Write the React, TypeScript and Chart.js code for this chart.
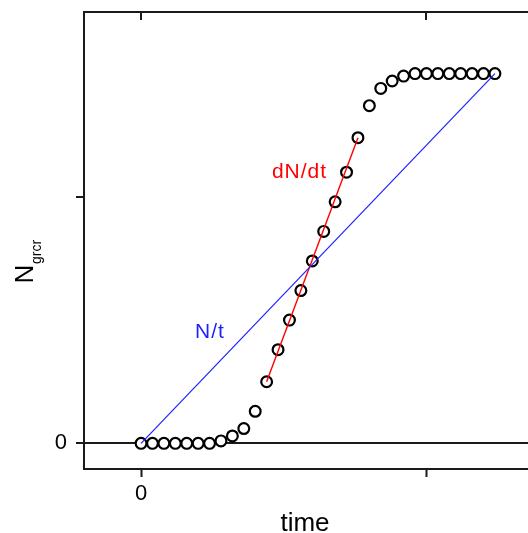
import React, { useEffect, useRef } from "react";
import { Chart, registerables } from "chart.js";

Chart.register(...registerables);

// ---- data ----
const time = [0, 1, 2, 3, 4, 5, 6, 7, 8, 9, 10, 11, 12, 13, 14, 15, 16, 17, 18, 19, 20, 21, 22, 23, 24, 25, 26, 27, 28, 29, 30, 31];
const ngrcr = [0, 0, 0, 0, 0, 0, 0, 0.01, 0.03, 0.06, 0.13, 0.25, 0.38, 0.5, 0.62, 0.74, 0.86, 0.98, 1.1, 1.24, 1.37, 1.44, 1.47, 1.49, 1.5, 1.5, 1.5, 1.5, 1.5, 1.5, 1.5, 1.5];
const ntLineX = [0, 31];
const ntLineY = [0, 1.5];
const dndtLineX = [11, 19];
const dndtLineY = [0.25, 1.24];
const xTickValues = [0, 25];
const xTickLabels = ["0", ""];
const yTickValues = [0, 1];
const yTickLabels = ["0", ""];
const xTitle = "time";
const yTitleMain = "N";
const yTitleSub = "grcr";
const ntLabel = "N/t";
const dndtLabel = "dN/dt";

const FONT = '"Liberation Sans", Arial, Helvetica, sans-serif';
const AXIS = "#1a1a1a";
const BLUE = "#1f1fff";
const RED = "#ff0000";

const overlay = {
  id: "overlay",
  afterDraw(chart: any) {
    const { ctx, chartArea, scales } = chart;
    const x = scales.x;
    const y = scales.y;
    ctx.save();
    // inside ticks on the top frame
    ctx.strokeStyle = AXIS;
    ctx.lineWidth = 2;
    xTickValues.forEach((v) => {
      const px = Math.round(x.getPixelForValue(v));
      ctx.beginPath();
      ctx.moveTo(px, chartArea.top);
      ctx.lineTo(px, chartArea.top + 8);
      ctx.stroke();
    });
    // annotations
    ctx.textAlign = "center";
    ctx.textBaseline = "alphabetic";
    ctx.font = `21px ${FONT}`;
    (ctx as any).letterSpacing = "1px";
    ctx.fillStyle = RED;
    ctx.fillText(dndtLabel, x.getPixelForValue(13.88), y.getPixelForValue(1.076));
    ctx.fillStyle = BLUE;
    ctx.fillText(ntLabel, x.getPixelForValue(6.04), y.getPixelForValue(0.427));
    (ctx as any).letterSpacing = "0px";
    // x title
    ctx.fillStyle = "#000";
    ctx.font = `26px ${FONT}`;
    ctx.fillText(xTitle, 305, 531);
    // y title (rotated, with subscript)
    ctx.rotate(-Math.PI / 2);
    ctx.textAlign = "left";
    ctx.font = `26px ${FONT}`;
    ctx.fillText(yTitleMain, -283.5, 33);
    ctx.font = `14px ${FONT}`;
    ctx.fillText(yTitleSub, -264, 41);
    ctx.restore();
  },
};

export default function App() {
  const ref = useRef<HTMLCanvasElement>(null);

  useEffect(() => {
    if (!ref.current) return;
    const chart = new Chart(ref.current, {
      type: "scatter",
      data: {
        datasets: [
          {
            label: ntLabel,
            data: ntLineX.map((v, i) => ({ x: v, y: ntLineY[i] })),
            showLine: true,
            borderColor: BLUE,
            borderWidth: 1.2,
            pointRadius: 0,
            fill: false,
          },
          {
            label: dndtLabel,
            data: dndtLineX.map((v, i) => ({ x: v, y: dndtLineY[i] })),
            showLine: true,
            borderColor: RED,
            borderWidth: 1.4,
            pointRadius: 0,
            fill: false,
          },
          {
            label: "Ngrcr",
            data: time.map((t, i) => ({ x: t, y: ngrcr[i] })),
            pointStyle: "circle",
            pointRadius: 5.4,
            pointBorderWidth: 2.2,
            pointBorderColor: "#000",
            pointBackgroundColor: "#fff",
            showLine: false,
          },
        ],
      },
      options: {
        animation: false,
        responsive: false,
        maintainAspectRatio: false,
        devicePixelRatio: 1,
        layout: { padding: { left: 0, top: 12, right: 8, bottom: 0 } },
        plugins: { legend: { display: false }, tooltip: { enabled: false } },
        scales: {
          x: {
            type: "linear",
            position: "bottom",
            min: -5,
            max: 36,
            afterBuildTicks: (scale: any) => {
              scale.ticks = xTickValues.map((v) => ({ value: v }));
            },
            afterFit: (scale: any) => {
              scale.height = 64;
              scale.paddingLeft = 0;
              scale.paddingRight = 0;
            },
            ticks: {
              callback: (_v: any, i: number) => xTickLabels[i],
              font: { family: FONT, size: 22 },
              color: "#000",
              padding: 4,
              maxRotation: 0,
            },
            grid: {
              drawOnChartArea: false,
              drawTicks: true,
              tickLength: 8,
              tickColor: AXIS,
              tickWidth: 2,
            },
            border: { display: true, color: AXIS, width: 2 },
          },
          x2: {
            type: "linear",
            position: "top",
            min: -5,
            max: 36,
            afterFit: (scale: any) => {
              scale.height = 0;
              scale.paddingLeft = 0;
              scale.paddingRight = 0;
            },
            ticks: { display: false },
            grid: { display: false, drawTicks: false },
            border: { display: true, color: AXIS, width: 2 },
          },
          y: {
            type: "linear",
            position: "left",
            min: -0.104,
            max: 1.75,
            afterBuildTicks: (scale: any) => {
              scale.ticks = yTickValues.map((v) => ({ value: v }));
            },
            afterFit: (scale: any) => {
              scale.width = 84;
              scale.paddingTop = 0;
              scale.paddingBottom = 0;
            },
            ticks: {
              callback: (_v: any, i: number) => yTickLabels[i],
              font: { family: FONT, size: 22 },
              color: "#000",
              padding: 9,
            },
            grid: {
              drawOnChartArea: true,
              drawTicks: true,
              tickLength: 8,
              color: (c: any) => (c.tick && c.tick.value === 0 ? AXIS : "rgba(0,0,0,0)"),
              lineWidth: 2,
              tickColor: AXIS,
              tickWidth: 2,
            },
            border: { display: true, color: AXIS, width: 2 },
          },
        },
      },
      plugins: [overlay],
    });
    return () => chart.destroy();
  }, []);

  return (
    <div
      style={{
        position: "absolute",
        left: 0,
        top: 0,
        width: 528,
        height: 533,
        overflow: "hidden",
        background: "#fff",
      }}
    >
      <canvas ref={ref} width={560} height={533} style={{ display: "block", width: 560, height: 533 }} />
    </div>
  );
}
